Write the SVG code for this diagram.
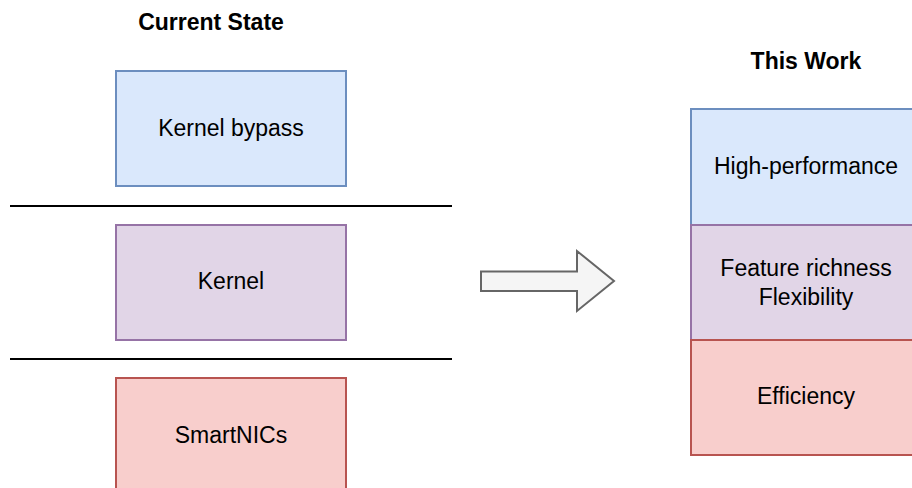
<svg xmlns="http://www.w3.org/2000/svg" width="912" height="488" viewBox="0 0 912 488">
<style>
text{font-family:"Liberation Sans",Arial,sans-serif;font-size:23px;fill:#000;text-anchor:middle}
.t{font-weight:bold}
.b{fill:#dae8fc;stroke:#6c8ebf;stroke-width:2}
.p{fill:#e1d5e7;stroke:#9673a6;stroke-width:2}
.r{fill:#f8cecc;stroke:#b85450;stroke-width:2}
.sep{stroke:#000;stroke-width:2}
</style>
<rect width="912" height="488" fill="#fff"/>
<text class="t" x="211" y="30">Current State</text>
<text class="t" x="806" y="69">This Work</text>
<g id="kernel-bypass"><rect class="b" x="116" y="71" width="230" height="115"/><text x="231" y="136">Kernel bypass</text></g>
<g id="kernel"><rect class="p" x="116" y="225" width="230" height="115"/><text x="231" y="289">Kernel</text></g>
<g id="smartnics"><rect class="r" x="116" y="378" width="230" height="115"/><text x="231" y="443">SmartNICs</text></g>
<g id="separators"><line class="sep" x1="10" y1="206" x2="452" y2="206"/><line class="sep" x1="10" y1="359" x2="452" y2="359"/></g>
<g id="connectors"><path d="M481 271.5 H577 V251 L614 281 L577 311 V291 H481 Z" fill="#f5f5f5" stroke="#666666" stroke-width="2"/></g>
<g id="high-performance"><rect class="b" x="691" y="109" width="230" height="116"/><text x="806" y="174">High-performance</text></g>
<g id="feature"><rect class="p" x="691" y="225" width="230" height="115"/><text x="806" y="276">Feature richness</text><text x="806" y="305">Flexibility</text></g>
<g id="efficiency"><rect class="r" x="691" y="340" width="230" height="115"/><text x="806" y="404">Efficiency</text></g>
</svg>
